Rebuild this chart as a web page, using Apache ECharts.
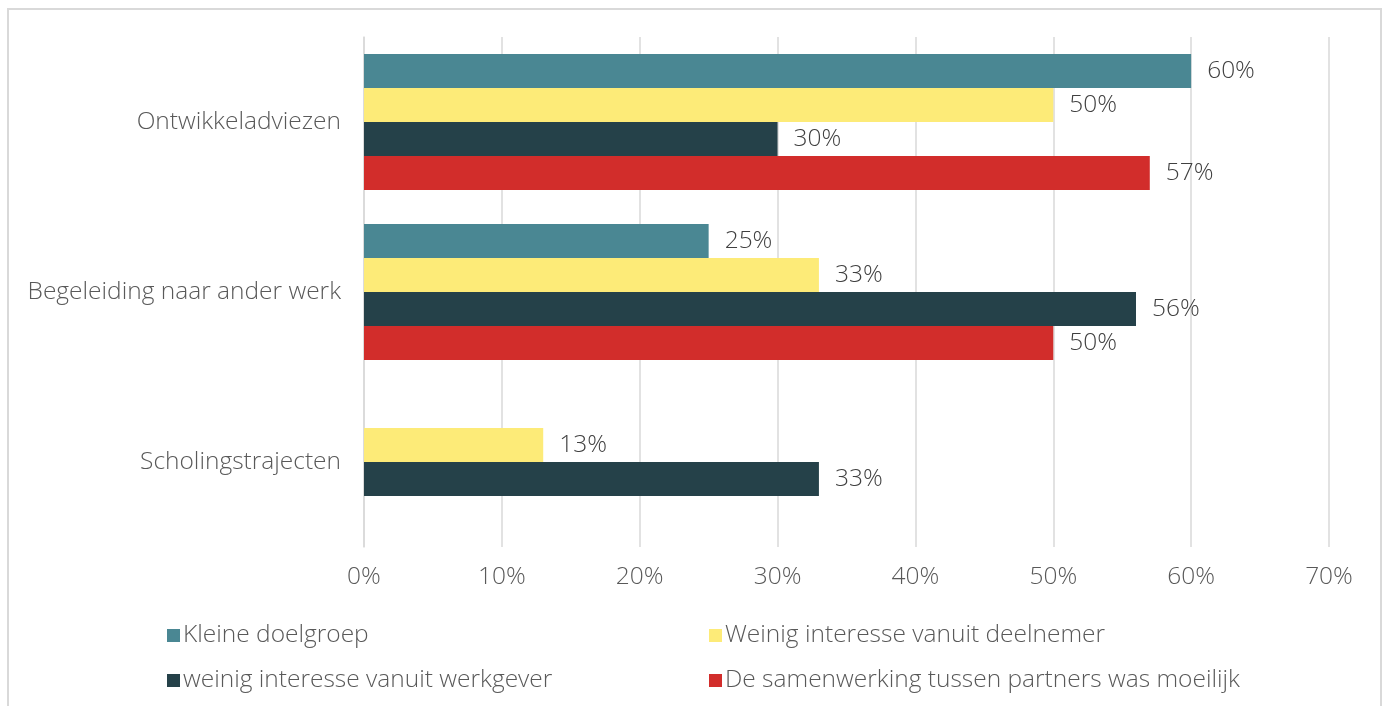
<!DOCTYPE html>
<html>
<head>
<meta charset="utf-8">
<script src="https://cdn.jsdelivr.net/npm/echarts@6/dist/echarts.min.js"></script>
<style>
html,body{margin:0;padding:0;background:#fff;}
#frame{position:absolute;left:7px;top:8px;width:1375px;height:720px;border:2px solid #d9d9d9;box-sizing:border-box;}
#chart{position:absolute;left:0;top:0;width:1389px;height:706px;}
</style>
</head>
<body>
<div id="frame"></div>
<div id="chart"></div>
<script>
const categories = ['Ontwikkeladviezen', 'Begeleiding naar ander werk', 'Scholingstrajecten'];
const seriesNames = ['Kleine doelgroep', 'Weinig interesse vanuit deelnemer', 'weinig interesse vanuit werkgever', 'De samenwerking tussen partners was moeilijk'];
const kleineDoelgroep = [60, 25, null];
const interesseDeelnemer = [50, 33, 13];
const interesseWerkgever = [30, 56, 33];
const samenwerking = [57, 50, null];
const xTicks = [0, 10, 20, 30, 40, 50, 60, 70];

const colors = ['#4a8793', '#fdeb78', '#254149', '#d22d2b'];
const values = [kleineDoelgroep, interesseDeelnemer, interesseWerkgever, samenwerking];
const FONT = 'Open Sans';
const FS = 24.5;

const chart = echarts.init(document.getElementById('chart'));
const legendPos = [[162, 618], [704, 618], [162, 663], [704, 663]];
chart.setOption({
  animation: false,
  textStyle: {fontFamily: FONT},
  grid: {left: 364, right: 60, top: 37, bottom: 159, containLabel: false},
  legend: seriesNames.map((n, i) => ({
    data: [n], left: legendPos[i][0], top: legendPos[i][1],
    icon: 'rect', itemWidth: 13, itemHeight: 13, itemGap: 4,
    textStyle: {fontFamily: FONT, fontSize: FS, fontWeight: 300, color: '#595959', padding: [0, 0, 0, -2]},
    selectedMode: false
  })),
  xAxis: {
    type: 'value', min: 0, max: 70, interval: 10,
    axisLine: {show: false}, axisTick: {show: false},
    splitLine: {lineStyle: {color: '#d9d9d9', width: 1.5}},
    axisLabel: {formatter: v => v + '%', fontSize: FS, fontWeight: 300, color: '#595959', margin: 18, fontFamily: FONT}
  },
  yAxis: {
    type: 'category', data: categories, inverse: true,
    axisLine: {show: true, lineStyle: {color: '#d9d9d9', width: 1.5}},
    axisTick: {show: false},
    axisLabel: {fontSize: FS, fontWeight: 300, color: '#595959', margin: 23, fontFamily: FONT}
  },
  series: seriesNames.map((n, i) => ({
    name: n, type: 'bar', data: values[i],
    barGap: '0%', barCategoryGap: '20%',
    itemStyle: {color: colors[i]},
    label: {show: true, position: 'right', distance: 16, formatter: p => p.value == null ? '' : p.value + '%',
      fontSize: FS, fontWeight: 300, color: '#404040', fontFamily: FONT}
  }))
});
</script>
</body>
</html>
